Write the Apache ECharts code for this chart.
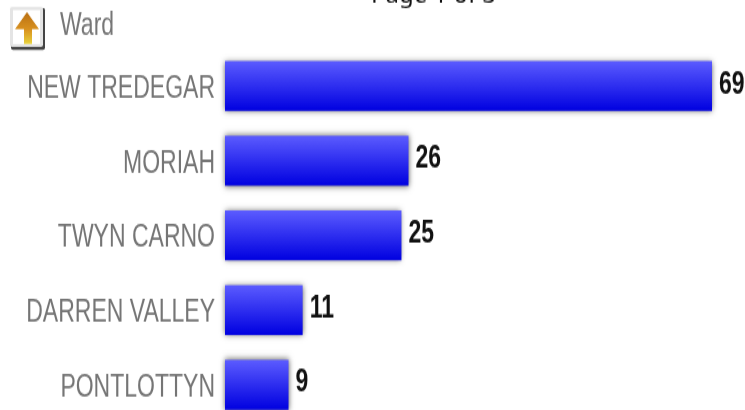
<!DOCTYPE html>
<html>
<head>
<meta charset="utf-8">
<style>
html,body{margin:0;padding:0;background:#fff;overflow:hidden}
#frame{width:745px;height:410px;overflow:hidden}
/* Tall, narrow lettering: the chart is laid out short and stretched vertically */
#chart{width:745px;height:306px;transform:scaleY(1.34);transform-origin:0 0}
</style>
<script src="https://cdn.jsdelivr.net/npm/echarts@6/dist/echarts.min.js"></script>
</head>
<body>
<div id="frame"><div id="chart"></div></div>
<script>
// Ward counts, largest first
const categories = ['NEW TREDEGAR', 'MORIAH', 'TWYN CARNO', 'DARREN VALLEY', 'PONTLOTTYN'];
const values = [69, 26, 25, 11, 9];
const fieldName = 'Ward';
const pageText = 'Page 1 of 3';

const stretch = 1.34;
const sans = '"Liberation Sans", Arial, sans-serif';
const chart = echarts.init(document.getElementById('chart'), null, { renderer: 'canvas' });

chart.setOption({
  animation: false,
  backgroundColor: '#fff',
  // The plot runs past the bottom edge, so the last bar is cut off by the page
  grid: { left: 225, top: 36.3, width: 487, height: 278.7, outerBoundsMode: 'none' },
  xAxis: { type: 'value', min: 0, max: 69, show: false },
  yAxis: {
    type: 'category',
    inverse: true,
    data: categories,
    axisLine: { show: false },
    axisTick: { show: false },
    axisLabel: {
      margin: 10,
      formatter: '{name|{value}}',
      rich: {
        // Top padding drops the names slightly below the bar centres
        name: { color: '#757575', fontFamily: sans, fontSize: 23, padding: [5, 0, 0, 0] }
      }
    }
  },
  series: [{
    type: 'bar',
    data: values,
    barWidth: 37.3,
    itemStyle: {
      color: new echarts.graphic.LinearGradient(0, 0, 0, 1, [
        { offset: 0, color: '#5c5cff' },
        { offset: 1, color: '#0000e0' }
      ]),
      shadowColor: 'rgba(60,60,60,0.8)',
      shadowBlur: 5
    },
    label: {
      show: true,
      position: 'right',
      distance: 7,
      color: '#111',
      fontFamily: sans,
      fontWeight: 'bold',
      fontSize: 23,
      offset: [0, -1]
    }
  }],
  graphic: [
    // Running page header, cut by the top edge; undoes the vertical stretch
    {
      type: 'text', x: 371, y: 8 / stretch, scaleY: 1 / stretch,
      style: {
        text: pageText, fontFamily: '"Noto Sans", sans-serif', fontSize: 24,
        fill: '#111', verticalAlign: 'bottom'
      }
    },
    // Field heading beside the sort button
    {
      type: 'text', x: 60, y: 8,
      style: { text: fieldName, fontFamily: sans, fontSize: 23, fill: '#777' }
    },
    // Sort button: bevelled square with an upward arrow
    {
      type: 'group', x: 10, y: 7 / stretch, scaleY: 1 / stretch,
      children: [
        { type: 'rect', shape: { x: 1, y: 1, width: 34, height: 42, r: 2 }, style: { fill: '#444' } },
        { type: 'rect', shape: { x: 0, y: 0, width: 33, height: 40, r: 2 }, style: { fill: '#e4e4e4' } },
        { type: 'rect', shape: { x: 3, y: 3, width: 27, height: 34 }, style: { fill: '#fff' } },
        {
          type: 'polygon',
          shape: { points: [[17, 5], [29, 22], [22, 22], [22, 37], [14, 37], [14, 22], [5, 22]] },
          style: {
            fill: new echarts.graphic.LinearGradient(0, 0, 0, 1, [
              { offset: 0, color: '#b96f12' },
              { offset: 0.55, color: '#d9921f' },
              { offset: 1, color: '#e8d23c' }
            ])
          }
        }
      ]
    }
  ]
});
</script>
</body>
</html>
